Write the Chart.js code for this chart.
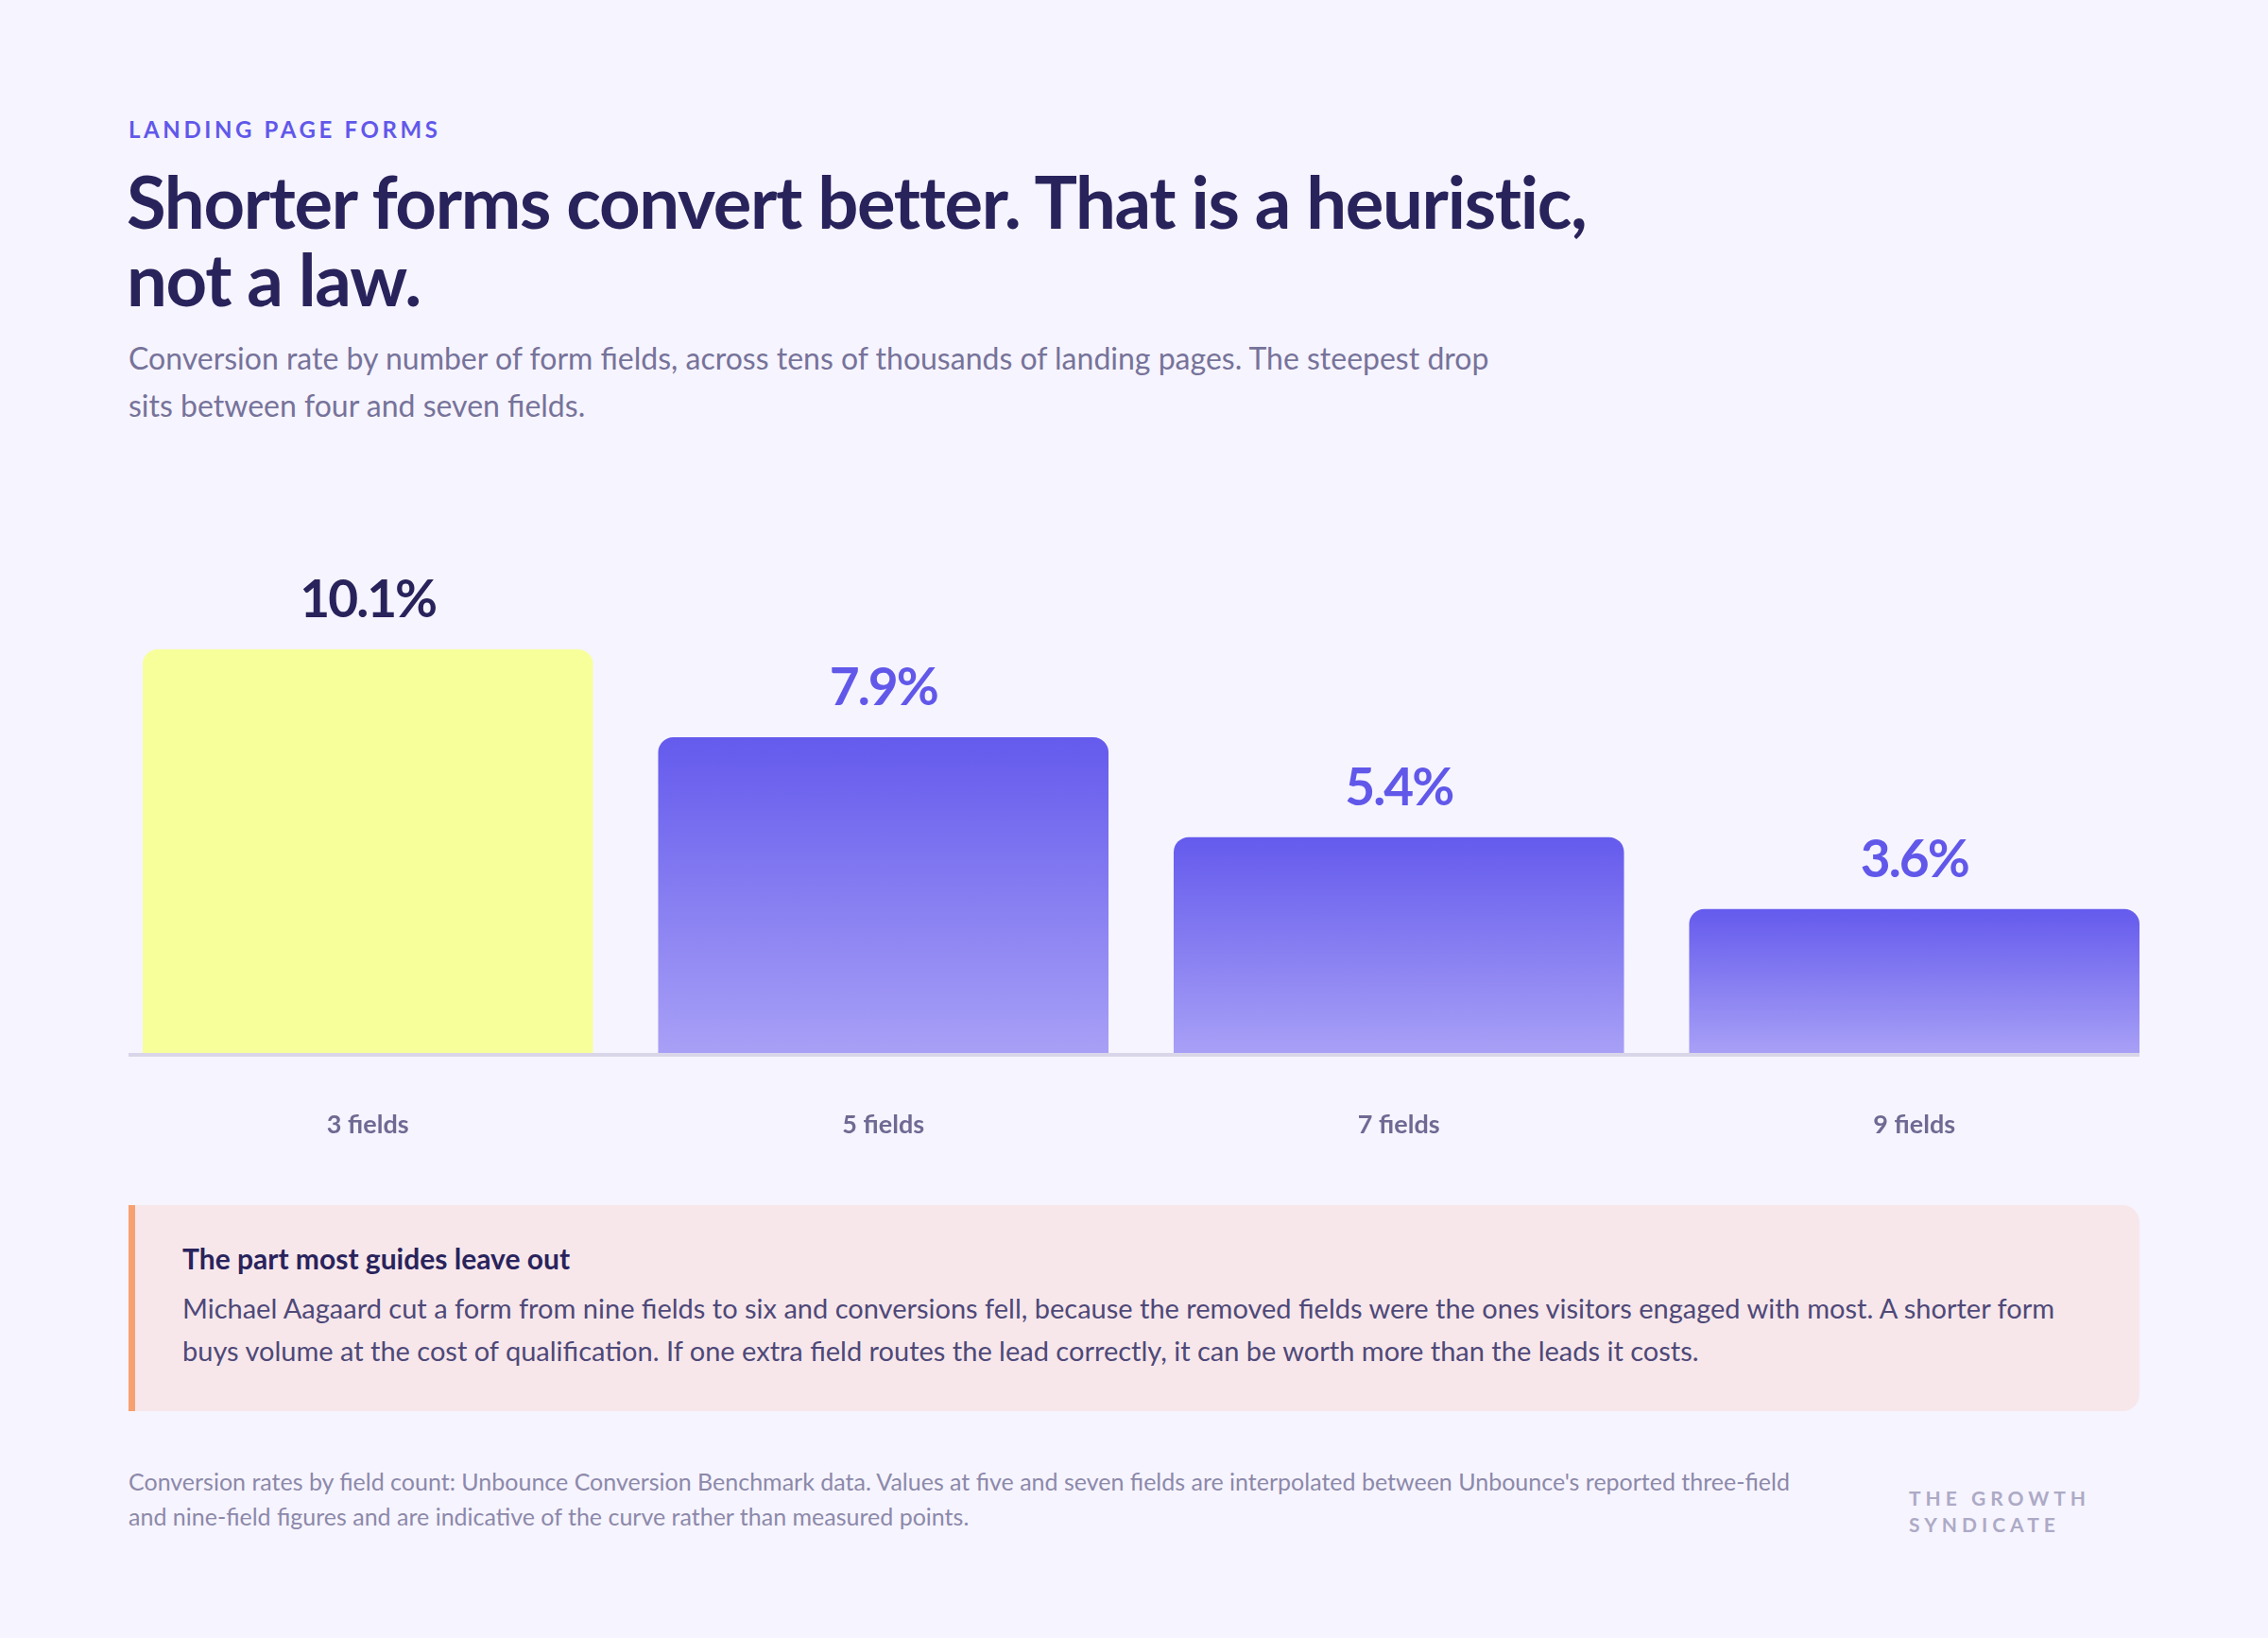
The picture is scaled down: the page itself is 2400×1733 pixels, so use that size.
<!DOCTYPE html>
<html>
<head>
<meta charset="utf-8">
<script src="https://cdn.jsdelivr.net/npm/chart.js@4.4.1/dist/chart.umd.min.js"></script>
<style>
  html, body { margin: 0; padding: 0; }
  body { width: 2400px; height: 1733px; background: #F6F4FE; position: relative; overflow: hidden; font-family: Lato, "Noto Sans", sans-serif; }
  .abs { position: absolute; white-space: nowrap; }
  #eyebrow { left: 136px; top: 125px; font-size: 24px; line-height: 24px; font-weight: 700; letter-spacing: 3.6px; color: #6158EA; }
  #title { left: 134px; top: 172px; font-size: 76px; line-height: 82px; font-weight: 700; letter-spacing: -1.3px; color: #29235C; }
  #subtitle { left: 136px; top: 354px; font-size: 32px; line-height: 50px; font-weight: 400; color: #76739A; }
  #chartWrap { position: absolute; left: 0; top: 560px; width: 2400px; height: 741px; }
  #callout { position: absolute; left: 136px; top: 1275px; width: 2121px; height: 218px; background: #F7E7EB; border-left: 7px solid #F7A072; border-radius: 0 18px 18px 0; }
  #calloutTitle { left: 193px; top: 1311px; font-size: 30px; line-height: 40px; font-weight: 700; color: #29235C; }
  #calloutBody { left: 193px; top: 1361px; font-size: 29px; line-height: 45px; font-weight: 400; color: #4E4978; }
  #footer { left: 136px; top: 1549px; font-size: 25px; line-height: 37px; color: #8C89AA; }
  #brand { left: 2020px; top: 1571px; font-size: 21px; line-height: 28px; font-weight: 700; letter-spacing: 5px; color: #ADAAC6; }
</style>
</head>
<body>
<div class="abs" id="eyebrow">LANDING PAGE FORMS</div>
<div class="abs" id="title">Shorter forms convert better. That is a heuristic,<br>not a law.</div>
<div class="abs" id="subtitle">Conversion rate by number of form fields, across tens of thousands of landing pages. The steepest drop<br>sits between four and seven fields.</div>
<div id="chartWrap"><canvas id="chart"></canvas></div>
<div id="callout"></div>
<div class="abs" id="calloutTitle">The part most guides leave out</div>
<div class="abs" id="calloutBody">Michael Aagaard cut a form from nine fields to six and conversions fell, because the removed fields were the ones visitors engaged with most. A shorter form<br>buys volume at the cost of qualification. If one extra field routes the lead correctly, it can be worth more than the leads it costs.</div>
<div class="abs" id="footer">Conversion rates by field count: Unbounce Conversion Benchmark data. Values at five and seven fields are interpolated between Unbounce's reported three-field<br>and nine-field figures and are indicative of the curve rather than measured points.</div>
<div class="abs" id="brand">THE GROWTH<br>SYNDICATE</div>

<script>
// ---- Data ----
const categories = ['3 fields', '5 fields', '7 fields', '9 fields'];
const conversionRates = [10.1, 7.9, 5.4, 3.6];
const valueLabels = ['10.1%', '7.9%', '5.4%', '3.6%'];
const highlightIndex = 0;

// ---- Styles ----
const YELLOW = '#F7FF9B';
const GRAD_TOP = '#645AED';
const GRAD_BOTTOM = '#A8A0F6';
const LABEL_DARK = '#29235C';
const LABEL_PURPLE = '#6158EA';

const axisAndLabels = {
  id: 'axisAndLabels',
  afterDatasetsDraw(chart) {
    const { ctx, chartArea } = chart;
    ctx.save();
    // baseline rule
    ctx.fillStyle = '#D9D6E9';
    ctx.fillRect(136, chartArea.bottom, 2264 - 136, 4);
    // value labels
    const meta = chart.getDatasetMeta(0);
    ctx.font = '700 55px Lato, "Noto Sans", sans-serif';
    try { ctx.letterSpacing = '-2px'; } catch (e) {}
    ctx.textAlign = 'center';
    ctx.textBaseline = 'alphabetic';
    meta.data.forEach((bar, i) => {
      ctx.fillStyle = i === highlightIndex ? LABEL_DARK : LABEL_PURPLE;
      ctx.fillText(valueLabels[i], bar.x, bar.y - 34);
    });
    ctx.restore();
  }
};

new Chart(document.getElementById('chart'), {
  type: 'bar',
  data: {
    labels: categories,
    datasets: [{
      data: conversionRates,
      backgroundColor: (c) => {
        if (c.dataIndex === highlightIndex) return YELLOW;
        const chart = c.chart;
        if (!chart.chartArea || !chart.scales.y) return GRAD_TOP;
        const y = chart.scales.y;
        const top = y.getPixelForValue(c.raw);
        const bottom = y.getPixelForValue(0);
        const g = chart.ctx.createLinearGradient(0, top, 0, bottom);
        g.addColorStop(0, GRAD_TOP);
        g.addColorStop(1, GRAD_BOTTOM);
        return g;
      },
      borderWidth: 0,
      borderRadius: { topLeft: 16, topRight: 16, bottomLeft: 0, bottomRight: 0 },
      borderSkipped: false,
      barPercentage: 0.8736,
      categoryPercentage: 1.0
    }]
  },
  options: {
    responsive: true,
    maintainAspectRatio: false,
    animation: false,
    devicePixelRatio: 1,
    layout: { padding: { left: 116.5, right: 101.5, top: 46.6, bottom: 34.6 } },
    plugins: { legend: { display: false }, tooltip: { enabled: false } },
    scales: {
      x: {
        grid: { display: false, drawTicks: false },
        border: { display: false },
        ticks: {
          padding: 60,
          color: '#6E6A93',
          font: { family: 'Lato, "Noto Sans", sans-serif', size: 27, weight: '700' }
        }
      },
      y: {
        display: false,
        min: 0,
        max: 12
      }
    }
  },
  plugins: [axisAndLabels]
});
</script>
</body>
</html>
